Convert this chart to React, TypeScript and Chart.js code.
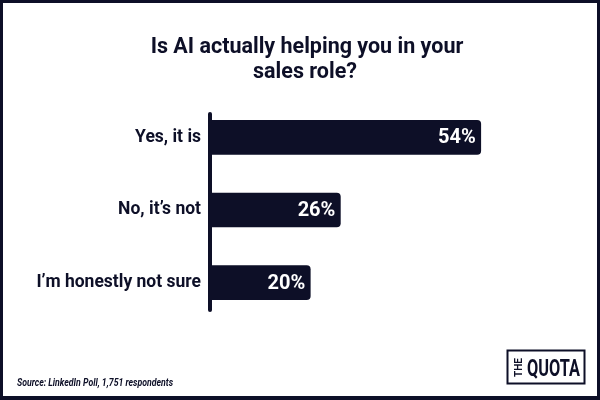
import React, { useEffect, useRef } from "react";
import { Chart, registerables } from "chart.js";

Chart.register(...registerables);

const title = ["Is AI actually helping you in your", "sales role?"];
const categories = ["Yes, it is", "No, it\u2019s not", "I\u2019m honestly not sure"];
const values = [54, 26, 20];
const sourceText = "Source: LinkedIn Poll, 1,751 respondents";
const logoSmall = "THE";
const logoBig = "QUOTA";

const NAVY = "#0d0f27";

export default function App() {
  const ref = useRef<HTMLCanvasElement | null>(null);

  useEffect(() => {
    document.body.style.margin = "0";
    const canvas = ref.current;
    if (!canvas) return;

    const decor = {
      id: "decor",
      beforeDraw(chart: any) {
        const ctx = chart.ctx;
        ctx.save();
        ctx.fillStyle = NAVY;
        ctx.fillRect(0, 0, 600, 400);
        ctx.fillStyle = "#ffffff";
        ctx.fillRect(3, 3, 594, 393);
        // title
        ctx.fillStyle = NAVY;
        ctx.font = "bold 21.5px Roboto";
        ctx.textAlign = "center";
        ctx.textBaseline = "alphabetic";
        ctx.fillText(title[0], 307, 53);
        ctx.fillText(title[1], 305, 78);
        // source
        ctx.font = "italic bold 11px Roboto";
        ctx.textAlign = "left";
        ctx.fillText(sourceText, 17, 386, 156);
        // logo
        ctx.strokeStyle = NAVY;
        ctx.lineWidth = 2;
        ctx.strokeRect(507.5, 350.5, 77, 33);
        ctx.font = "bold 23px Roboto";
        ctx.fillText(logoBig, 527, 376, 53);
        ctx.save();
        ctx.translate(522, 367.5);
        ctx.rotate(-Math.PI / 2);
        ctx.font = "bold 10px Roboto";
        ctx.textAlign = "center";
        ctx.fillText(logoSmall, 0, 0, 19);
        ctx.restore();
        ctx.restore();
      },
      afterDatasetsDraw(chart: any) {
        const ctx = chart.ctx;
        const meta = chart.getDatasetMeta(0);
        const left = chart.chartArea.left;
        ctx.save();
        ctx.strokeStyle = NAVY;
        ctx.lineWidth = 4;
        ctx.lineCap = "round";
        ctx.beginPath();
        ctx.moveTo(left, 114);
        ctx.lineTo(left, 310);
        ctx.stroke();
        ctx.fillStyle = "#ffffff";
        ctx.font = "bold 20px Roboto";
        ctx.textAlign = "right";
        ctx.textBaseline = "middle";
        meta.data.forEach((bar: any, i: number) => {
          ctx.fillText(values[i] + "%", bar.x - 5, bar.y + 1);
        });
        ctx.restore();
      },
    };

    const chart = new Chart(canvas, {
      type: "bar",
      data: {
        labels: categories,
        datasets: [
          {
            data: values,
            backgroundColor: NAVY,
            borderRadius: 4,
            borderSkipped: "start",
            barThickness: 34,
          },
        ],
      },
      options: {
        indexAxis: "y",
        responsive: false,
        animation: false,
        devicePixelRatio: 1,
        layout: { padding: { left: 0, right: 39, top: 101, bottom: 81 } },
        plugins: {
          legend: { display: false },
          title: { display: false },
          tooltip: { enabled: false },
        },
        scales: {
          x: { display: false, min: 0, max: 70 },
          y: {
            grid: { display: false, drawTicks: false },
            border: { display: false },
            ticks: {
              color: NAVY,
              padding: 9,
              font: { family: "Roboto", size: 17.5, weight: "bold" },
            },
            afterFit(scale: any) {
              scale.width = 210;
            },
          },
        },
      },
      plugins: [decor],
    } as any);

    return () => chart.destroy();
  }, []);

  return (
    <div style={{ position: "fixed", left: 0, top: 0, width: 600, height: 400 }}>
      <canvas ref={ref} width={600} height={400} />
    </div>
  );
}
